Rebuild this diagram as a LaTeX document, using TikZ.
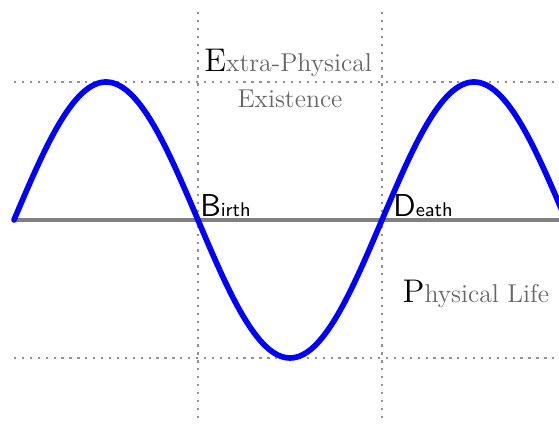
\documentclass[tikz,border=0pt]{standalone}
\usepackage{tikz}

\begin{document}
\begin{tikzpicture}[scale=1.43,
  guide/.style={gray!85, line width=1pt, dash pattern=on 1pt off 2.5pt},
  lbl/.style={text=black!60, font=\fontsize{11.4}{13}\selectfont, inner sep=0pt},
  event/.style={anchor=base west, font=\sffamily\fontsize{8.8}{10}\selectfont, inner sep=0pt}]
  \clip (-0.152,-2.261) rectangle (5.924,2.391);

  % Dotted guides
  \draw[guide] (0,1.5) -- (6,1.5);
  \draw[guide] (0,-1.5) -- (6,-1.5);
  \foreach \x in {2,4} {
    \draw[guide] (\x,2.26) -- (\x,-2.17);
  }

  % Axis
  \draw[gray, line width=1.4pt] (0,0) -- (6,0);

  % Wave
  \draw[blue, line width=2.5pt, line cap=round]
    (0,0) sin (1,1.5) cos (2,0) sin (3,-1.5) cos (4,0) sin (5,1.5) cos (6,0);

  % Labels
  \node[lbl, anchor=base] (extra) at (2.98,1.61)
    {{\color{black}\fontsize{14.5}{15}\selectfont E}xtra-Physical};
  \node[lbl, anchor=base] (exist) at (3.0,1.22) {Existence};
  \node[event] (birth) at (2.02,0.04) {{\fontsize{14}{15}\selectfont B}irth};
  \node[event] (death) at (4.12,0.04) {{\fontsize{14}{15}\selectfont D}eath};
  \node[lbl, anchor=base west] (life) at (4.22,-0.9)
    {{\color{black}\fontsize{14.5}{15}\selectfont P}hysical Life};
\end{tikzpicture}
\end{document}
